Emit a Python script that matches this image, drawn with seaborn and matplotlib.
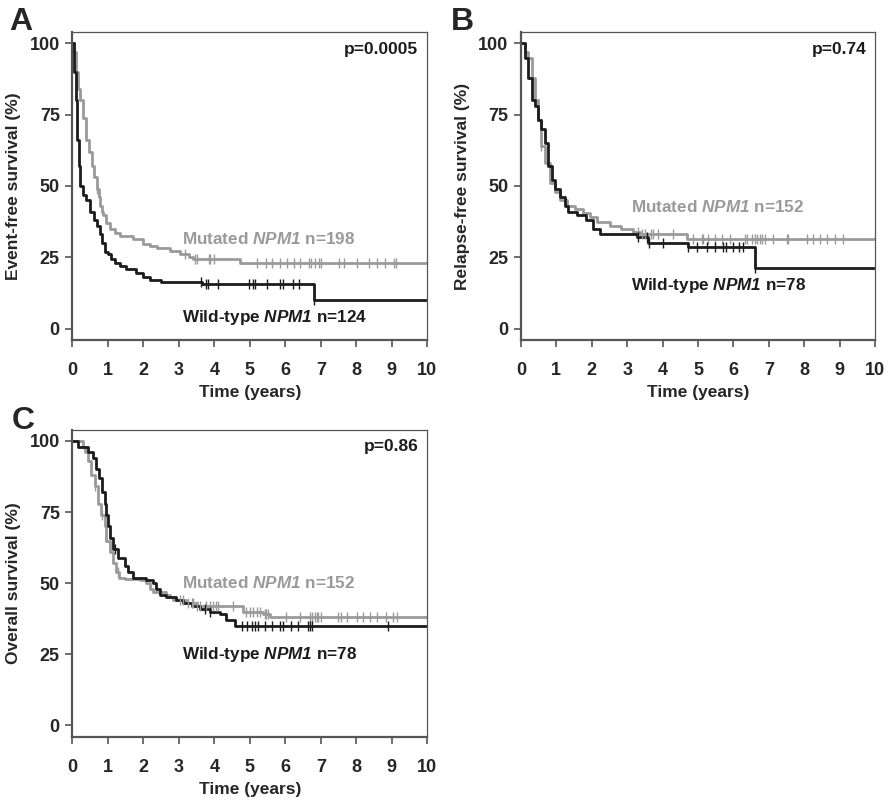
import numpy as np
import pandas as pd
import matplotlib
matplotlib.use("Agg")
import matplotlib.pyplot as plt
import seaborn as sns

sns.set_style("white")
plt.rcParams['font.family'] = ['Liberation Sans', 'DejaVu Sans']
plt.rcParams['font.weight'] = 'bold'
# gene name in bold italic (digits included)
plt.rcParams['mathtext.fontset'] = 'custom'
plt.rcParams['mathtext.it'] = 'Liberation Sans:italic:bold'
plt.rcParams['mathtext.rm'] = 'Liberation Sans:italic:bold'
plt.rcParams['mathtext.bf'] = 'Liberation Sans:bold'

# ---- Panel A: event-free survival ----
a_wt_t = [0, 0.05, 0.1, 0.14, 0.18, 0.22, 0.3, 0.4, 0.5, 0.6, 0.7, 0.78, 0.85, 0.92, 1.0, 1.1, 1.2,
          1.35, 1.5, 1.8, 2.0, 2.2, 2.5, 3.65, 6.8]
a_wt_s = [100, 90, 80, 66, 57, 50, 47, 45, 41, 38, 36, 33, 30, 27, 26, 24.5, 23,
          22, 20.8, 19.4, 18, 17, 16.4, 15.6, 10.2]
a_wt_cens = [3.63, 3.77, 3.81, 4.10, 4.97, 5.08, 5.16, 5.49, 5.84, 5.94, 6.21, 6.40, 6.80]

a_mut_t = [0, 0.05, 0.1, 0.16, 0.22, 0.3, 0.4, 0.48, 0.55, 0.62, 0.69, 0.74, 0.78, 0.83, 0.87, 0.95,
           1.06, 1.2, 1.35, 1.72, 2.0, 2.2, 2.38, 2.76, 3.04, 3.3, 3.4, 4.73]
a_mut_s = [100, 97, 90, 84, 80, 74, 66, 62, 57, 53, 49, 46, 43, 41, 40, 37,
           35, 33.5, 32.5, 31.3, 29.6, 29, 28.4, 27.2, 26, 25, 24.3, 22.9]
a_mut_cens = [0.71, 3.18, 3.46, 3.51, 3.84, 3.88, 3.98, 5.2, 5.46, 5.63, 5.84, 6.05, 6.24, 6.42, 6.66,
              6.72, 6.85, 6.94, 7.01, 7.51, 7.65, 8.02, 8.35, 8.59, 8.82, 9.06, 9.12]

# ---- Panel B: relapse-free survival ----
b_wt_t = [0, 0.11, 0.2, 0.3, 0.4, 0.49, 0.58, 0.68, 0.77, 0.87, 0.96, 1.1, 1.24, 1.34, 1.57,
          1.85, 2.04, 2.23, 3.27, 3.6, 4.73, 6.61]
b_wt_s = [100, 95, 88, 80, 78, 73, 70, 65, 57, 52, 49, 46, 43, 41, 40,
          38, 35, 33, 32, 30, 28.5, 21.3]
b_wt_cens = [3.3, 3.55, 3.62, 4.0, 4.73, 4.96, 5.25, 5.48, 5.72, 5.79, 6.0, 6.17, 6.28, 6.61]

b_mut_t = [0, 0.11, 0.2, 0.3, 0.4, 0.49, 0.58, 0.68, 0.82, 0.96, 1.1, 1.29, 1.53, 1.76, 1.95,
           2.14, 2.51, 2.84, 3.17, 3.36, 4.68]
b_mut_s = [100, 97, 95, 88, 80, 73, 64, 58, 51, 48, 45, 43, 42, 40.5, 39,
           37.5, 36, 35, 34, 33, 31.3]
b_mut_cens = [0.58, 3.31, 3.41, 3.5, 3.66, 3.74, 3.88, 4.3, 4.87, 5.1, 5.15, 5.29, 5.48, 5.67, 5.9,
              6.33, 6.37, 6.52, 6.61, 6.66, 6.75, 6.8, 6.89, 7.13, 7.5, 7.55, 8.07, 8.26, 8.45,
              8.64, 8.87, 9.1]

# ---- Panel C: overall survival ----
c_wt_t = [0, 0.16, 0.44, 0.58, 0.68, 0.75, 0.85, 0.91, 0.96, 1.0, 1.05, 1.15, 1.29, 1.48, 1.57,
          1.71, 2.09, 2.27, 2.37, 2.46, 2.65, 2.93, 3.12, 3.36, 3.59, 3.87, 4.15, 4.34, 4.58]
c_wt_s = [100, 98, 96, 94, 90, 87, 82, 78, 74, 70, 66, 62, 59, 56, 54,
          52, 51, 50, 48, 46, 45, 44, 43, 42, 41, 40, 39, 37, 35]
c_wt_cens = [1.2, 3.73, 3.87, 4.77, 4.91, 5.05, 5.14, 5.24, 5.43, 5.62, 5.86, 5.93, 6.17, 6.36,
             6.64, 6.69, 6.74, 8.9]

c_mut_t = [0, 0.3, 0.35, 0.44, 0.54, 0.63, 0.72, 0.82, 0.91, 0.96, 1.05, 1.15, 1.24, 1.33, 1.48,
           1.9, 2.09, 2.18, 2.27, 2.65, 2.74, 2.84, 3.21, 3.5, 4.81, 5.38, 5.56]
c_mut_s = [100, 98, 96, 93, 88, 84, 78, 74, 70, 65, 61, 57, 54, 52, 51.5,
           51, 50, 48, 47, 46, 45, 44, 43, 42, 40, 39, 38]
c_mut_cens = [0.65, 0.85, 1.3, 3.03, 3.12, 3.26, 3.36, 3.4, 3.5, 3.6, 3.78, 3.87, 3.97, 4.06, 4.11,
              4.53, 4.9, 5.0, 5.09, 5.19, 5.28, 5.42, 5.47, 5.51, 6.03, 6.41, 6.69, 6.74, 6.83,
              6.88, 6.93, 7.02, 7.49, 7.58, 7.73, 8.01, 8.19, 8.38, 8.57, 8.85, 9.04, 9.14]

panels = [
    dict(label="A", ylabel="Event-free survival (%)", p="p=0.0005",
         wt=(a_wt_t, a_wt_s, a_wt_cens), mut=(a_mut_t, a_mut_s, a_mut_cens),
         n_wt=124, n_mut=198, mut_y=31.3, wt_y=3.9),
    dict(label="B", ylabel="Relapse-free survival (%)", p="p=0.74",
         wt=(b_wt_t, b_wt_s, b_wt_cens), mut=(b_mut_t, b_mut_s, b_mut_cens),
         n_wt=78, n_mut=152, mut_y=42.5, wt_y=15.0),
    dict(label="C", ylabel="Overall survival (%)", p="p=0.86",
         wt=(c_wt_t, c_wt_s, c_wt_cens), mut=(c_mut_t, c_mut_s, c_mut_cens),
         n_wt=78, n_mut=152, mut_y=50.2, wt_y=24.8),
]

BLACK = "#1c1c1c"
GREY = "#9a9a9a"
SPINE = "#555555"

fig = plt.figure(figsize=(8.92, 8.0), dpi=100)
rects = [[0.081, 0.575, 0.398, 0.385],
         [0.584, 0.575, 0.397, 0.385],
         [0.081, 0.079, 0.398, 0.384]]
letter_pos = [(0.010, 0.973), (0.506, 0.973), (0.013, 0.474)]


def km_plot(ax, t, s, cens, color):
    t_end = list(t) + [10]
    s_end = list(s) + [s[-1]]
    df = pd.DataFrame({"t": t_end, "s": s_end})
    sns.lineplot(data=df, x="t", y="s", ax=ax, drawstyle="steps-post", estimator=None,
                 sort=False, color=color, linewidth=2.0)
    idx = np.searchsorted(np.array(t), np.array(cens), side="right") - 1
    cdf = pd.DataFrame({"t": cens, "s": np.array(s)[idx]})
    sns.scatterplot(data=cdf, x="t", y="s", ax=ax, marker="|", s=45, color=color,
                    linewidth=1.0, zorder=3)


for rect, pos, p in zip(rects, letter_pos, panels):
    ax = fig.add_axes(rect)
    km_plot(ax, *p["mut"], GREY)
    km_plot(ax, *p["wt"], BLACK)
    ax.set_xlim(0, 10)
    ax.set_ylim(-4, 104)
    ax.set_xticks(range(0, 11))
    ax.set_yticks([0, 25, 50, 75, 100])
    ax.tick_params(axis="both", direction="out", length=5, width=1.2, color=SPINE,
                   labelsize=13, bottom=True, left=True)
    ax.tick_params(axis="x", pad=11)
    ax.tick_params(axis="y", pad=4)
    for lab in ax.get_xticklabels() + ax.get_yticklabels():
        lab.set_fontweight("bold")
    for side in ["left", "bottom"]:
        ax.spines[side].set_color(SPINE)
        ax.spines[side].set_linewidth(1.6)
    for side in ["top", "right"]:
        ax.spines[side].set_color(SPINE)
        ax.spines[side].set_linewidth(0.9)
    ax.set_xlabel("Time (years)", fontsize=12.5, fontweight="bold", labelpad=4)
    ax.set_ylabel(p["ylabel"], fontsize=12.5, fontweight="bold", labelpad=6)
    ax.text(9.75, 98, p["p"], ha="right", va="center", fontsize=12.5, fontweight="bold",
            color=BLACK)
    ax.text(3.1, p["mut_y"], r"Mutated $NPM1$ n=%d" % p["n_mut"],
            ha="left", va="center", fontsize=12.3, fontweight="bold", color=GREY)
    ax.text(3.1, p["wt_y"], r"Wild-type $NPM1$ n=%d" % p["n_wt"],
            ha="left", va="center", fontsize=12.3, fontweight="bold", color=BLACK)
    fig.text(pos[0], pos[1], p["label"], fontsize=23, fontweight="bold", ha="left", va="center")

fig.savefig("out.png", dpi=100)
